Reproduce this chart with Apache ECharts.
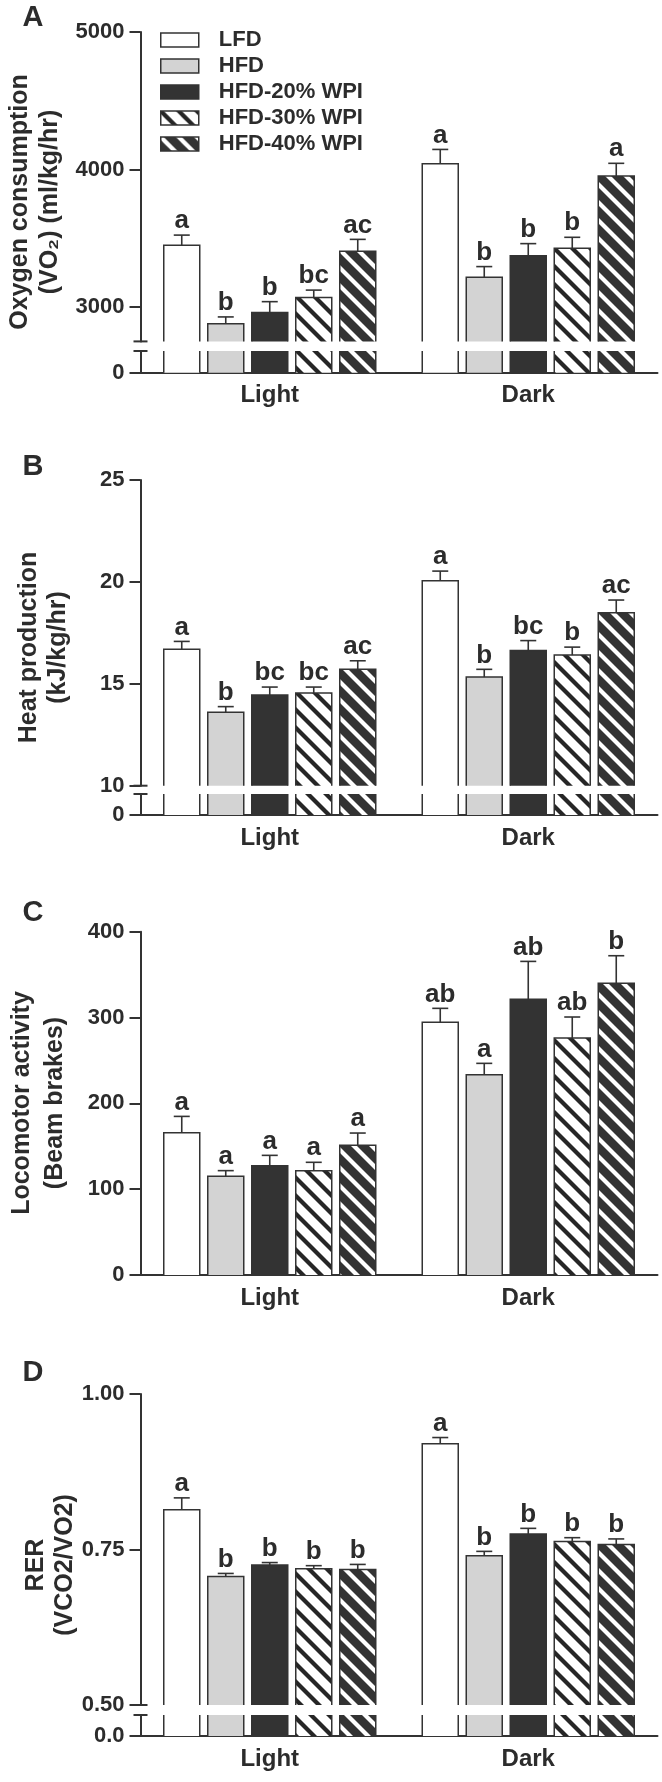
<!DOCTYPE html>
<html><head><meta charset="utf-8">
<script src="https://cdn.jsdelivr.net/npm/echarts@6/dist/echarts.min.js"></script>
<style>html,body{margin:0;padding:0;background:#fff}#c{width:662px;height:1782px}</style>
</head><body><div id="c"></div>
<script>
// ---------------- DATA ----------------
const categories = ['Light', 'Dark'];
const groups = ['LFD', 'HFD', 'HFD-20% WPI', 'HFD-30% WPI', 'HFD-40% WPI'];

// A: Oxygen consumption (VO2), per group [Light, Dark]
const vo2Mean = [[3449, 4042], [2879, 3217], [2961, 3372], [3070, 3427], [3405, 3953]];
const vo2Err  = [[74, 104], [49, 77], [78, 89], [53, 80], [87, 92]];
const vo2Letters = [['a', 'a'], ['b', 'b'], ['b', 'b'], ['bc', 'b'], ['ac', 'a']];
const vo2Ticks = [3000, 4000, 5000];

// B: Heat production
const heatMean = [[16.69, 20.06], [13.60, 15.33], [14.45, 16.64], [14.55, 16.41], [15.72, 18.49]];
const heatErr  = [[0.39, 0.47], [0.28, 0.38], [0.39, 0.48], [0.29, 0.39], [0.41, 0.62]];
const heatLetters = [['a', 'a'], ['b', 'b'], ['bc', 'bc'], ['bc', 'b'], ['ac', 'ac']];
const heatTicks = [10, 15, 20, 25];

// C: Locomotor activity
const locoMean = [[165.8, 294.4], [115.0, 233.4], [127.4, 321.2], [121.6, 276.1], [151.1, 339.8]];
const locoErr  = [[19.0, 16.3], [6.6, 13.2], [12.0, 44.2], [9.7, 24.5], [14.3, 32.2]];
const locoLetters = [['a', 'ab'], ['a', 'a'], ['a', 'ab'], ['a', 'ab'], ['a', 'b']];
const locoTicks = [0, 100, 200, 300, 400];

// D: RER
const rerMean = [[0.814, 0.920], [0.7065, 0.740], [0.725, 0.775], [0.719, 0.763], [0.718, 0.758]];
const rerErr  = [[0.019, 0.010], [0.005, 0.007], [0.004, 0.009], [0.005, 0.006], [0.008, 0.009]];
const rerLetters = [['a', 'a'], ['b', 'b'], ['b', 'b'], ['b', 'b'], ['b', 'b']];
const rerTicks = [0.5, 0.75, 1.0];

const lowerTicks = [0];

// ---------------- STYLE ----------------
const FONT = '"Liberation Sans", Arial, Helvetica, sans-serif';
const INK = '#2c2c2c';
const LINE = '#333333';
const BAR_W = 36, BAR_GAP = 8;
const GRID_LEFT = 140.5, GRID_W = 517;

function stripes(bg, fg) {
  const P = 18, c = document.createElement('canvas');
  c.width = P; c.height = P;
  const g = c.getContext('2d');
  g.fillStyle = bg; g.fillRect(0, 0, P, P);
  g.strokeStyle = fg; g.lineWidth = 4.2;
  [-P, 0, P].forEach(o => { g.beginPath(); g.moveTo(o - 3, -3); g.lineTo(o + P + 3, P + 3); g.stroke(); });
  return c;
}
const fills = [
  '#ffffff',
  '#d3d3d3',
  '#333333',
  { image: stripes('#ffffff', '#262626'), repeat: 'repeat' },
  { image: stripes('#333333', '#ffffff'), repeat: 'repeat' }
];

const panels = [
  { key: 'A', mean: vo2Mean, err: vo2Err, letters: vo2Letters,
    title: ['Oxygen consumption', '(VO\u2082) (ml/kg/hr)'], titleX: [20, 50], titleY: 202, keyY: 17.5,
    parts: [
      { top: 32, height: 309.4, min: 2750, max: 5000, ticks: vo2Ticks, fmt: v => String(v), main: true },
      { top: 351, height: 21.7, min: 0, max: 2750, ticks: lowerTicks, fmt: () => '0', axis: true }
    ] },
  { key: 'B', mean: heatMean, err: heatErr, letters: heatLetters,
    title: ['Heat production', '(kJ/kg/hr)'], titleX: [29, 58], titleY: 647.5, keyY: 467,
    parts: [
      { top: 480, height: 305.7, min: 10, max: 25, ticks: heatTicks, fmt: v => String(v), main: true },
      { top: 794, height: 21, min: 0, max: 10, ticks: lowerTicks, fmt: () => '0', axis: true }
    ] },
  { key: 'C', mean: locoMean, err: locoErr, letters: locoLetters,
    title: ['Locomotor activity', '(Beam brakes)'], titleX: [22, 55], titleY: 1103, keyY: 913,
    parts: [
      { top: 931.7, height: 343.3, min: 0, max: 400, ticks: locoTicks, fmt: v => String(v), main: true, axis: true }
    ] },
  { key: 'D', mean: rerMean, err: rerErr, letters: rerLetters,
    title: ['RER', '(VCO2/VO2)'], titleX: [36, 65], titleY: 1565, keyY: 1373,
    parts: [
      { top: 1394, height: 311, min: 0.5, max: 1.0, ticks: rerTicks, fmt: v => v.toFixed(2), main: true },
      { top: 1715, height: 21, min: 0, max: 0.5, ticks: lowerTicks, fmt: () => '0.0', axis: true }
    ] }
];

const grid = [], xAxis = [], yAxis = [], series = [], graphic = [];
let idx = 0;

// outline of bars, open where the bar leaves the grid (axis break)
function outlineItem(params, api) {
  const cs = params.coordSys;
  const ci = api.value(0), v = api.value(1), gi = api.value(2);
  const pt = api.coord([ci, v]);
  const cx = pt[0] + (gi - 2) * (BAR_W + BAR_GAP);
  const xl = cx - BAR_W / 2, xr = cx + BAR_W / 2;
  const yBot = cs.y + cs.height;
  const topIn = pt[1] >= cs.y;
  const yTop = topIn ? pt[1] : cs.y;
  const style = { stroke: LINE, lineWidth: 1.5, fill: null };
  if (topIn) return { type: 'polyline', shape: { points: [[xl, yBot], [xl, yTop], [xr, yTop], [xr, yBot]] }, style };
  return { type: 'group', children: [
    { type: 'line', shape: { x1: xl, y1: yBot, x2: xl, y2: yTop }, style },
    { type: 'line', shape: { x1: xr, y1: yBot, x2: xr, y2: yTop }, style }
  ] };
}

panels.forEach(p => {
  graphic.push({ type: 'text', x: 33, y: p.keyY,
    style: { text: p.key, font: 'bold 29px ' + FONT, fill: INK, align: 'center', verticalAlign: 'middle' } });
  p.title.forEach((t, i) => graphic.push({ type: 'text', x: p.titleX[i], y: p.titleY, rotation: Math.PI / 2,
    style: { text: t, font: 'bold 25px ' + FONT, fill: INK, align: 'center', verticalAlign: 'middle' } }));

  p.parts.forEach((part, pi) => {
    const k = idx++;
    grid.push({ left: GRID_LEFT, width: GRID_W, top: part.top, height: part.height });
    xAxis.push({ type: 'category', gridIndex: k, data: categories,
      axisLine: { show: !!part.axis, lineStyle: { color: LINE, width: 2 } },
      axisTick: { show: false },
      axisLabel: { show: !!part.axis, margin: 11, color: INK, fontFamily: FONT, fontWeight: 'bold', fontSize: 24 } });
    yAxis.push({ type: 'value', gridIndex: k, min: part.min, max: part.max,
      splitLine: { show: false },
      axisLine: { show: true, lineStyle: { color: LINE, width: 2 } },
      axisTick: { show: true, length: 11, lineStyle: { color: LINE, width: 2 }, customValues: part.ticks },
      axisLabel: { show: true, margin: 16, color: INK, fontFamily: FONT, fontWeight: 'bold', fontSize: 22,
        customValues: part.ticks, formatter: part.fmt } });

    groups.forEach((g, gi) => series.push({
      type: 'bar', name: g, xAxisIndex: k, yAxisIndex: k, data: p.mean[gi],
      barWidth: BAR_W, barGap: (BAR_GAP / BAR_W * 100).toFixed(1) + '%', clip: true, silent: true,
      itemStyle: { color: fills[gi], borderWidth: 0 }
    }));

    const odata = [];
    groups.forEach((g, gi) => categories.forEach((c, ci) => odata.push([ci, p.mean[gi][ci], gi])));
    series.push({ type: 'custom', name: 'outline' + p.key + pi, xAxisIndex: k, yAxisIndex: k, data: odata,
      clip: false, silent: true, z: 3, renderItem: outlineItem });

    if (p.parts.length > 1) {
      const y = pi === 0 ? part.top + part.height : part.top;
      graphic.push({ type: 'line', z: 10, shape: { x1: GRID_LEFT - 7, y1: y, x2: GRID_LEFT + 7, y2: y },
        style: { stroke: LINE, lineWidth: 2 } });
    }

    if (part.main) {
      const data = [], labs = [];
      groups.forEach((g, gi) => categories.forEach((c, ci) => {
        data.push([ci, p.mean[gi][ci], p.err[gi][ci], gi]);
        labs.push(p.letters[gi][ci]);
      }));
      series.push({
        type: 'custom', name: 'err' + p.key, xAxisIndex: k, yAxisIndex: k, data: data, clip: false, silent: true, z: 5,
        renderItem: (params, api) => {
          const ci = api.value(0), v = api.value(1), e = api.value(2), gi = api.value(3);
          const top = api.coord([ci, v]), hi = api.coord([ci, v + e]);
          const x = top[0] + (gi - 2) * (BAR_W + BAR_GAP);
          return { type: 'group', children: [
            { type: 'line', shape: { x1: x, y1: top[1], x2: x, y2: hi[1] }, style: { stroke: LINE, lineWidth: 1.6 } },
            { type: 'line', shape: { x1: x - 8, y1: hi[1], x2: x + 8, y2: hi[1] }, style: { stroke: LINE, lineWidth: 1.6 } },
            { type: 'text', style: { text: labs[params.dataIndex], x: x, y: hi[1] - 1, align: 'center', verticalAlign: 'bottom',
              font: 'bold 26px ' + FONT, fill: INK } }
          ] };
        }
      });
    }
  });
});

const chart = echarts.init(document.getElementById('c'), null, { renderer: 'canvas' });
chart.setOption({
  animation: false,
  backgroundColor: '#ffffff',
  grid, xAxis, yAxis, series, graphic,
  legend: {
    data: groups, orient: 'vertical', left: 160, top: 29, padding: 0,
    itemWidth: 38, itemHeight: 14, itemGap: 4, icon: 'rect', selectedMode: false,
    itemStyle: { borderColor: LINE, borderWidth: 1.5 },
    textStyle: { color: INK, fontFamily: FONT, fontWeight: 'bold', fontSize: 22, padding: [0, 0, 0, 15] }
  }
});
</script></body></html>
